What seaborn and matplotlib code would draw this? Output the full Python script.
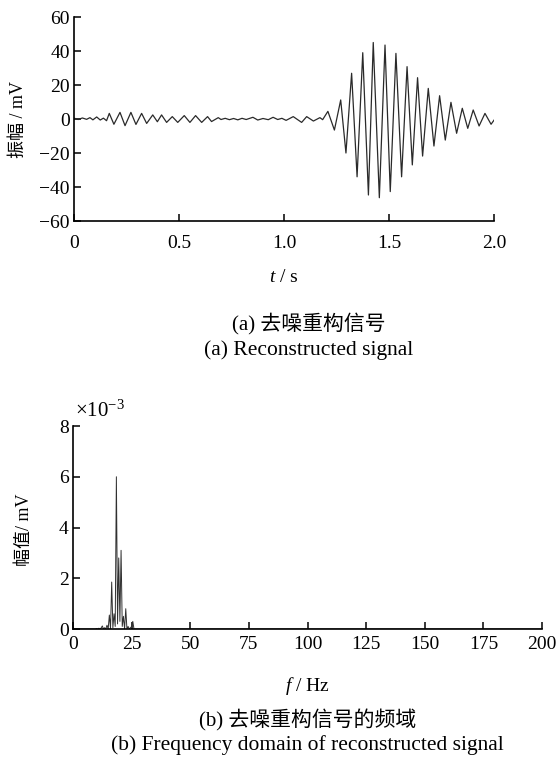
import numpy as np
import pandas as pd
import seaborn as sns
import matplotlib.pyplot as plt

# ---- data: reconstructed signal (extrema) ----
sig_t = [0.0, 0.02, 0.04, 0.06, 0.076, 0.09, 0.108, 0.125, 0.14, 0.155,
         0.168, 0.19, 0.219, 0.243, 0.271, 0.295, 0.322, 0.346, 0.375, 0.397,
         0.417, 0.441, 0.468, 0.494, 0.525, 0.552, 0.579, 0.608, 0.636, 0.655,
         0.687, 0.70, 0.72, 0.74, 0.76, 0.78, 0.80, 0.82, 0.852, 0.875,
         0.90, 0.925, 0.948, 0.97, 0.99, 1.01, 1.044, 1.084, 1.108, 1.14,
         1.171, 1.184, 1.209, 1.240, 1.270, 1.295, 1.322, 1.348, 1.375, 1.402,
         1.425, 1.454, 1.481, 1.506, 1.533, 1.560, 1.586, 1.611, 1.636, 1.660,
         1.687, 1.714, 1.741, 1.768, 1.795, 1.822, 1.849, 1.875, 1.901, 1.929,
         1.957, 1.986, 2.018, 2.032]
sig_v = [0.5, -0.3, 0.6, -0.2, 0.8, -0.5, 1.2, -0.6, 0.5, -1.0,
         3.3, -3.1, 3.9, -3.9, 3.9, -3.2, 3.3, -2.6, 2.4, -1.6,
         2.4, -2.0, 1.4, -2.0, 2.0, -2.0, 2.0, -2.0, 1.4, -1.5,
         0.8, -0.3, 0.4, -0.4, 0.3, -0.5, 0.4, -0.3, 1.0, -0.6,
         0.3, -0.4, 1.0, -0.3, 0.4, -0.8, 1.4, -2.0, 1.4, -1.2,
         0.8, -0.4, 4.5, -6.5, 11.2, -20.0, 26.9, -34.0, 39.0, -44.7,
         45.0, -46.3, 43.5, -42.7, 38.6, -34.0, 30.8, -27.0, 24.3, -21.8,
         18.0, -15.9, 13.7, -12.4, 9.8, -8.4, 6.3, -5.5, 5.3, -4.1,
         3.3, -3.1, 2.4, 0.5]

# ---- data: spectrum (x1e-3 mV), nonzero bins ----
spec_f = [10.0, 10.5, 11.0, 11.5, 12.0, 12.5, 13.0, 13.5, 14.0, 14.5,
          15.0, 15.5, 16.0, 16.5, 17.0, 17.5, 18.0, 18.5, 19.0, 19.5,
          20.0, 20.5, 21.0, 21.5, 22.0, 22.5, 23.0, 23.5, 24.0, 24.5,
          25.0, 25.5, 26.0]
spec_a = [0.02, 0.0, 0.03, 0.0, 0.04, 0.12, 0.0, 0.05, 0.0, 0.15,
          0.0, 0.55, 0.0, 1.85, 0.05, 0.6, 0.1, 6.0, 0.2, 2.8,
          0.3, 3.1, 0.1, 0.5, 0.0, 0.8, 0.0, 0.1, 0.0, 0.05,
          0.1, 0.3, 0.0]

t_ticks = [0, 0.5, 1.0, 1.5, 2.0]
t_labels = ["0", "0.5", "1.0", "1.5", "2.0"]
v_ticks = [60, 40, 20, 0, -20, -40, -60]
f_ticks = [0, 25, 50, 75, 100, 125, 150, 175, 200]
a_ticks = [0, 2, 4, 6, 8]

sns.set_theme(style="ticks")
plt.rcParams['font.family'] = ['Liberation Serif', 'Noto Sans CJK SC']
plt.rcParams['mathtext.fontset'] = 'custom'
plt.rcParams['mathtext.rm'] = 'Liberation Serif'
plt.rcParams['mathtext.it'] = 'Liberation Serif:italic'
plt.rcParams['xtick.direction'] = 'in'
plt.rcParams['ytick.direction'] = 'in'
plt.rcParams['axes.unicode_minus'] = True
plt.rcParams['text.color'] = 'black'
plt.rcParams['axes.labelcolor'] = 'black'
plt.rcParams['xtick.color'] = 'black'
plt.rcParams['ytick.color'] = 'black'

TICK = 14
AXL = 14
YL = 13
CAP_EN = 15.5
CAP_CJK = 15

fig = plt.figure(figsize=(5.57, 7.66), dpi=100)
ax1 = fig.add_axes([74/557, 1-221/766, 420/557, 204/766])
ax2 = fig.add_axes([73/557, 1-629/766, 469/557, 203/766])

sig = pd.DataFrame({"t": sig_t, "v": sig_v})
sns.lineplot(data=sig, x="t", y="v", ax=ax1, color="#2a2a2a", linewidth=0.9,
             estimator=None, sort=False)

full_f = np.round(np.arange(0, 200.5, 0.5), 1)
spec = pd.Series(spec_a, index=spec_f).reindex(full_f, fill_value=0.0)
spec_df = pd.DataFrame({"f": spec.index, "a": spec.values})
sns.lineplot(data=spec_df, x="f", y="a", ax=ax2, color="#303030", linewidth=0.7,
             estimator=None, sort=False)

for ax in (ax1, ax2):
    sns.despine(ax=ax)
    for s in ("left", "bottom"):
        ax.spines[s].set_linewidth(1.2)
        ax.spines[s].set_color("black")
    ax.tick_params(axis="both", length=5, width=1.1, labelsize=TICK,
                   colors="black", pad=3)
    ax.set_xlabel("")
    ax.set_ylabel("")

ax1.tick_params(axis="x", pad=10)
ax2.tick_params(axis="x", pad=5)

ax1.set_xlim(0, 2.0)
ax1.set_ylim(-60, 60)
ax1.set_xticks(t_ticks)
ax1.set_xticklabels(t_labels)
ax1.set_yticks(v_ticks)
ax1.set_yticklabels([str(v).replace("-", "\u2212") for v in v_ticks])

ax2.set_xlim(0, 200)
ax2.set_ylim(0, 8)
ax2.set_xticks(f_ticks)
ax2.set_yticks(a_ticks)

# axis labels and captions
fig.text(18/557, 1-120/766, "振幅 / mV", rotation=90, ha="center", va="center",
         fontsize=YL)
fig.text(284/557, 1-278/766, r"$\mathit{t}$ / s", ha="center", va="center",
         fontsize=AXL)
fig.text(309/557, 1-324/766, "(a) 去噪重构信号", ha="center", va="center",
         fontsize=CAP_CJK)
fig.text(309/557, 1-350/766, "(a) Reconstructed signal", ha="center",
         va="center", fontsize=CAP_EN)

fig.text(75/557, 1-411/766, r"×10$^{-3}$", ha="left", va="center",
         fontsize=15)
fig.text(25/557, 1-530/766, "幅值/ mV", rotation=90, ha="center", va="center",
         fontsize=YL)
fig.text(307/557, 1-686/766, r"$\mathit{f}$ / Hz", ha="center", va="center",
         fontsize=AXL)
fig.text(308/557, 1-720/766, "(b) 去噪重构信号的频域", ha="center", va="center",
         fontsize=CAP_CJK)
fig.text(307/557, 1-745/766, "(b) Frequency domain of reconstructed signal",
         ha="center", va="center", fontsize=CAP_EN)

fig.savefig("out.png", dpi=100)
